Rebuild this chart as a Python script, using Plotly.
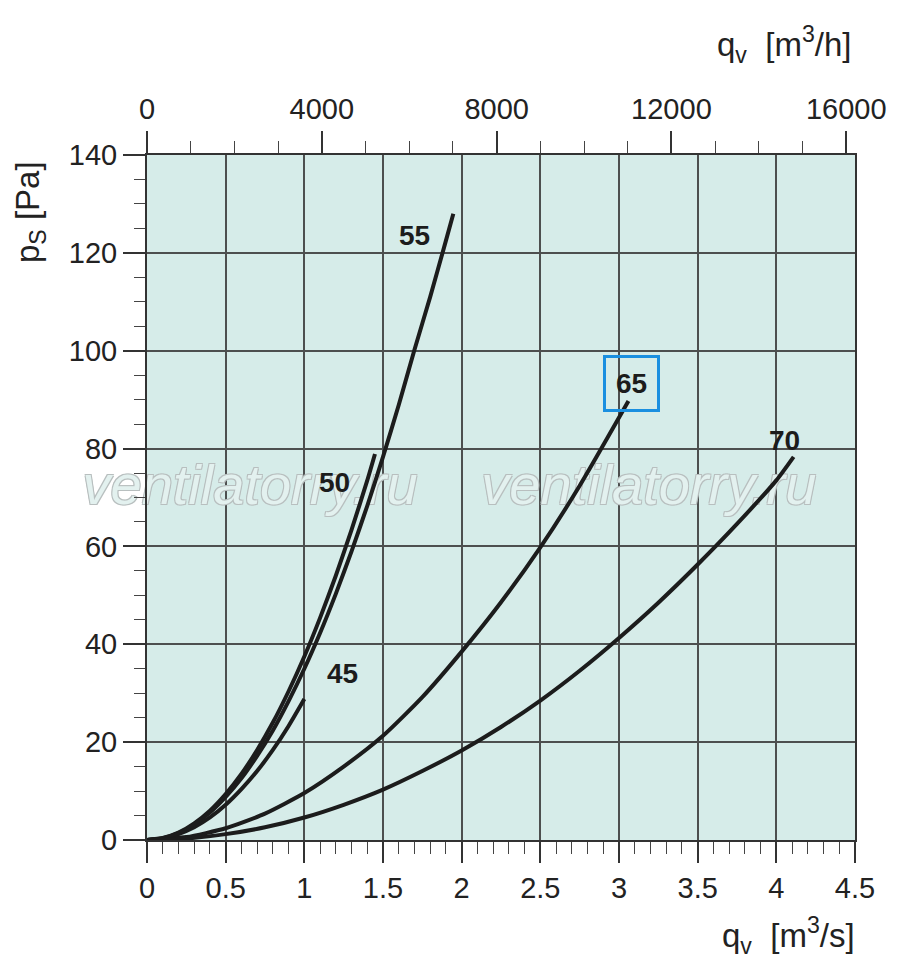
import plotly.graph_objects as go

# fan curves, static pressure p_s [Pa] vs air flow q_v [m3/s]
qv_45 = [0, 0.1, 0.2, 0.3, 0.4, 0.5, 0.6, 0.7, 0.8, 0.9, 1.0]
ps_45 = [0, 0.3, 1.2, 2.6, 4.6, 7.2, 10.4, 14.1, 18.4, 23.3, 28.8]

qv_50 = [0, 0.1, 0.2, 0.3, 0.4, 0.5, 0.6, 0.7, 0.8, 0.9, 1.0, 1.1, 1.2, 1.3, 1.4, 1.449]
ps_50 = [0, 0.4, 1.5, 3.4, 6.0, 9.4, 13.5, 18.4, 24.0, 30.4, 37.5, 45.4, 54.0, 63.4, 73.5, 78.9]

qv_55 = [0, 0.1, 0.2, 0.3, 0.4, 0.5, 0.6, 0.7, 0.8, 0.9, 1.0, 1.1, 1.2, 1.3, 1.4,
         1.5, 1.6, 1.7, 1.8, 1.9, 1.947]
ps_55 = [0, 0.35, 1.4, 3.2, 5.6, 8.8, 12.6, 17.2, 22.4, 28.4, 35.0, 42.3, 50.3, 59.0, 68.3,
         78.3, 88.9, 100.2, 111.0, 122.5, 128.0]

qv_65 = [0, 0.25, 0.5, 0.75, 1.0, 1.25, 1.5, 1.75, 2.0, 2.25, 2.5, 2.75, 3.06]
ps_65 = [0, 0.6, 2.4, 5.4, 9.6, 15.0, 21.3, 29.2, 38.5, 48.6, 59.8, 72.4, 89.7]

qv_70 = [0, 0.25, 0.5, 0.75, 1.0, 1.25, 1.5, 1.75, 2.0, 2.25, 2.5, 2.75, 3.0, 3.25, 3.5,
         3.75, 4.0, 4.11]
ps_70 = [0, 0.3, 1.2, 2.6, 4.6, 7.2, 10.3, 14.1, 18.3, 23.1, 28.5, 34.6, 41.3, 48.5, 56.3,
         64.6, 73.5, 78.3]

curves = [("45", qv_45, ps_45), ("50", qv_50, ps_50), ("55", qv_55, ps_55),
          ("65", qv_65, ps_65), ("70", qv_70, ps_70)]

# curve label positions (q_v, p_s)
label_names = ["55", "50", "45", "65", "70"]
label_x = [1.70, 1.19, 1.24, 3.08, 4.055]
label_y = [123.6, 73.0, 34.1, 93.4, 81.7]

# watermark positions
mark_x = [0.655, 3.19]
mark_y = [71.5, 71.5]

# top axis in m3/h
top_ticks = [0, 4000, 8000, 12000, 16000]
top_labels = ["0", "4000", "8000", "12000", "16000"]
top_minor = [1000, 2000, 3000, 5000, 6000, 7000, 9000, 10000, 11000, 13000, 14000, 15000]

font = "Liberation Sans, Arial, sans-serif"
ink = "#1c1c1c"
grid = "#4d4f4f"

fig = go.Figure()

# watermark first, so the curves are drawn over it
fig.add_trace(go.Scatter(x=mark_x, y=mark_y, mode="text",
                         text=["<i>ventilatorry.ru</i>"] * len(mark_x),
                         textposition="middle center", cliponaxis=False,
                         textfont=dict(family=font, size=56, color="#e3f1ef",
                                       shadow="-1px -1px 0 #b8bfbf, 1px -1px 0 #b8bfbf, "
                                              "-1px 1px 0 #b8bfbf, 1px 1px 0 #b8bfbf"),
                         hoverinfo="skip", showlegend=False))

for name, xs, ys in curves:
    fig.add_trace(go.Scatter(x=xs, y=ys, mode="lines", name=name,
                             line=dict(color=ink, width=4, shape="spline", smoothing=0.6),
                             hoverinfo="x+y+name"))

# helper trace so the m3/h axis on top is drawn
fig.add_trace(go.Scatter(x=[q * 3600 for q in qv_70], y=ps_70, xaxis="x2",
                         mode="lines", line=dict(width=0, color="rgba(0,0,0,0)"),
                         hoverinfo="skip", showlegend=False))

for name, lx, ly in zip(label_names, label_x, label_y):
    ann = dict(x=lx, y=ly, text="<b>" + name + "</b>", showarrow=False,
               font=dict(family=font, size=28, color=ink))
    if name == "65":
        ann.update(bordercolor="#1a8fe0", borderwidth=3, borderpad=10)
    fig.add_annotation(**ann)

# axis titles
fig.add_annotation(xref="paper", yref="paper", x=-0.165, y=0.917, textangle=-90,
                   xanchor="center", yanchor="middle",
                   text="p<sub>S</sub> [Pa]", showarrow=False,
                   font=dict(family=font, size=33, color="#222"))
fig.add_annotation(xref="paper", yref="paper", x=0.997, y=1.162, xanchor="right",
                   yanchor="middle", text="q<sub>v</sub>  [m<sup>3</sup>/h]", showarrow=False,
                   font=dict(family=font, size=33, color="#222"))
fig.add_annotation(xref="paper", yref="paper", x=1.003, y=-0.139, xanchor="right",
                   yanchor="middle", text="q<sub>v</sub>  [m<sup>3</sup>/s]", showarrow=False,
                   font=dict(family=font, size=33, color="#222"))

fig.update_layout(
    width=892, height=971,
    margin=dict(l=139, r=45, t=147, b=139),
    paper_bgcolor="white",
    plot_bgcolor="#d6ece9",
    showlegend=False,
    font=dict(family=font, size=29, color="#222"),
    xaxis=dict(range=[0, 4.5], dtick=0.5, tick0=0, showgrid=True, gridcolor=grid,
               gridwidth=1.5, zeroline=False, showline=True, linecolor="#333",
               linewidth=2, mirror=True, ticks="outside", ticklen=21, tickwidth=1.5,
               tickcolor="#333",
               minor=dict(dtick=0.1, ticks="outside", ticklen=12, tickwidth=1.2,
                          tickcolor="#444", showgrid=False)),
    xaxis2=dict(overlaying="x", side="top", range=[0, 16200],
                tickvals=top_ticks, ticktext=top_labels, showgrid=False, zeroline=False,
                ticks="outside", ticklen=22, tickwidth=1.5, tickcolor="#333",
                showline=True, linecolor="#333", linewidth=2,
                minor=dict(tickvals=top_minor, ticks="outside", ticklen=12,
                           tickwidth=1.2, tickcolor="#444")),
    yaxis=dict(range=[0, 140], dtick=20, tick0=0, showgrid=True, gridcolor=grid,
               gridwidth=1.5, zeroline=False, showline=True, linecolor="#333",
               linewidth=2, mirror=True, ticks="outside", ticklen=22, tickwidth=1.5,
               tickcolor="#333",
               minor=dict(dtick=5, ticks="outside", ticklen=11, tickwidth=1.2,
                          tickcolor="#444", showgrid=False)),
)

fig.write_html("out.html")
